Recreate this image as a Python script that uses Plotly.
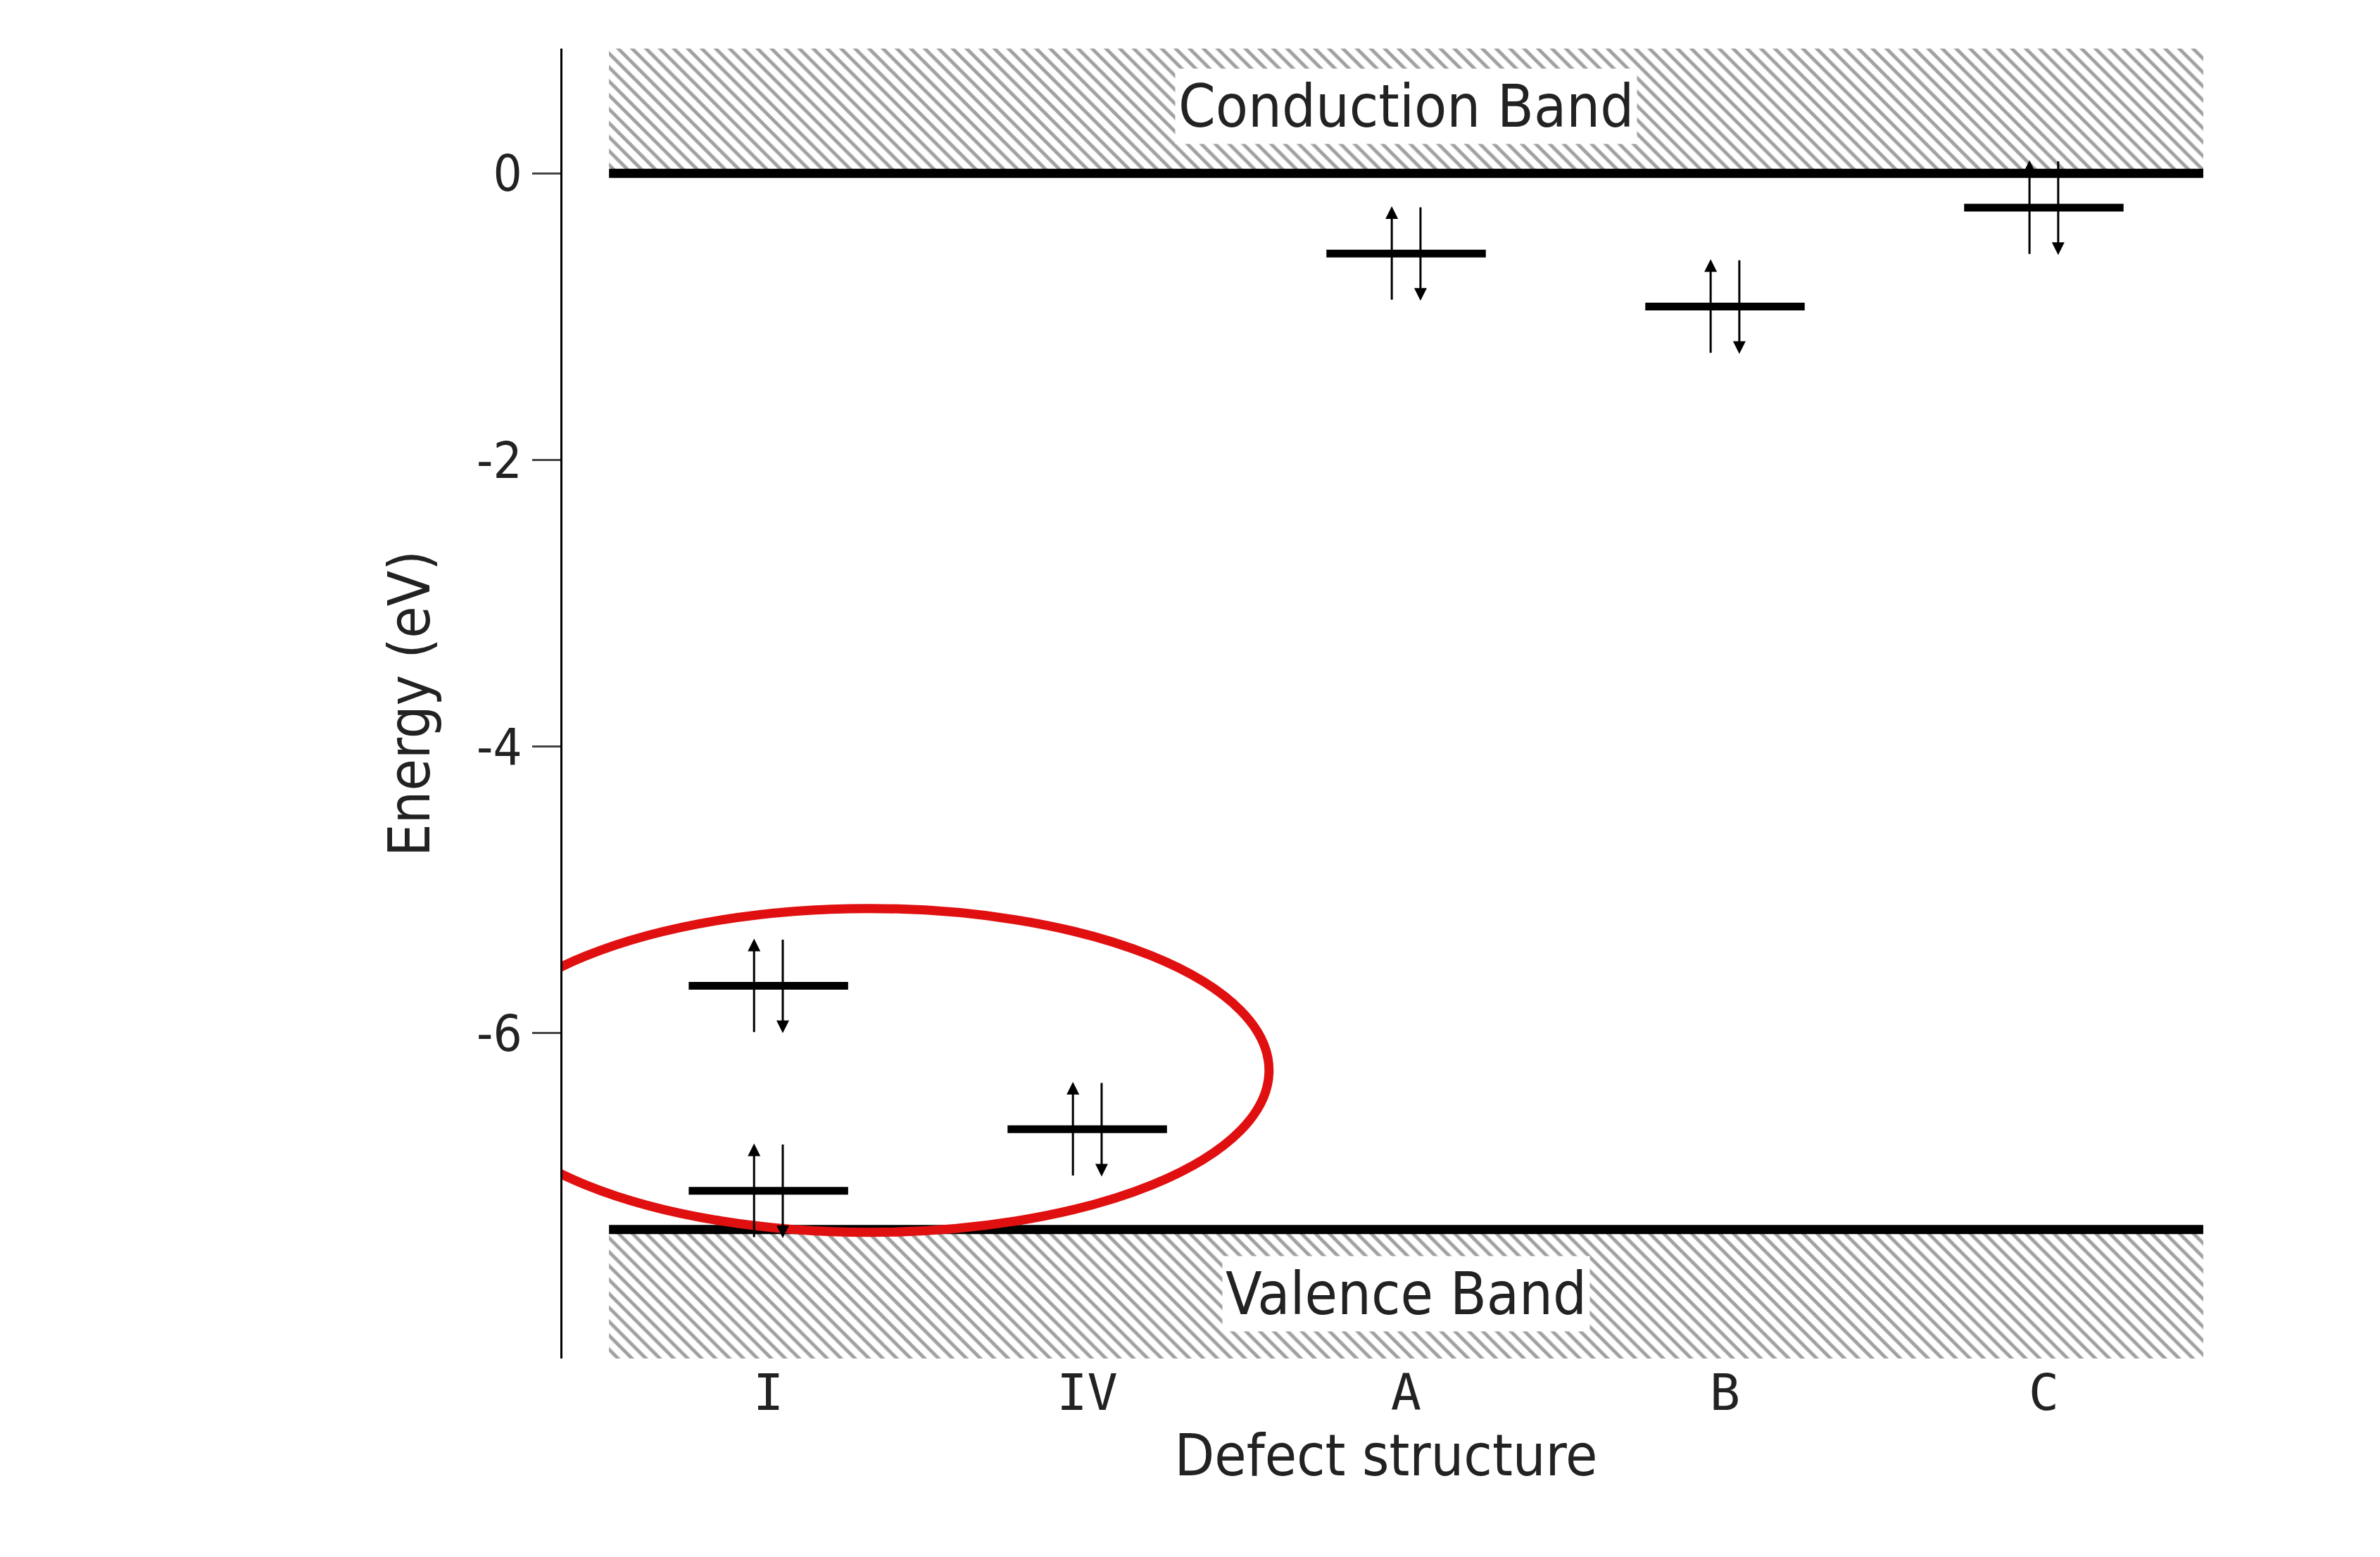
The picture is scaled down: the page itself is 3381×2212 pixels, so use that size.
import plotly.graph_objects as go

# data
defects = ["I", "IV", "A", "B", "C"]
level_defect = ["I", "I", "IV", "A", "B", "C"]
level_energy = [-5.67, -7.10, -6.67, -0.56, -0.93, -0.24]
e_cb = 0.0
e_vb = -7.37
cb_top = 0.87
vb_bottom = -8.27
y_ticks = [0, -2, -4, -6]

FONT = "DejaVu Sans Condensed, DejaVu Sans, Arial"
x_left, x_right = -0.5, 4.5

fig = go.Figure()

# hatched bands
for y0, y1 in [(e_cb, cb_top), (vb_bottom, e_vb)]:
    fig.add_trace(go.Scatter(
        x=[x_left, x_right, x_right, x_left, x_left], y=[y0, y0, y1, y1, y0],
        mode="lines", fill="toself", line=dict(width=0),
        fillcolor="white",
        fillpattern=dict(shape="\\", size=14, solidity=0.35, fgcolor="#444", bgcolor="white"),
        hoverinfo="skip", showlegend=False))

# band edges
for e in [e_cb, e_vb]:
    fig.add_trace(go.Scatter(x=[x_left, x_right], y=[e, e], mode="lines",
                             line=dict(color="black", width=13), showlegend=False))

# defect levels with spin arrows
half = 0.25
for name, e in zip(level_defect, level_energy):
    xc = defects.index(name)
    fig.add_trace(go.Scatter(x=[xc - half, xc + half], y=[e, e], mode="lines",
                             line=dict(color="black", width=11), showlegend=False))
    for dx, sign in [(-0.045, 1), (0.045, -1)]:
        fig.add_annotation(x=xc + dx, y=e + sign * 0.33, ax=xc + dx, ay=e - sign * 0.33,
                           xref="x", yref="y", axref="x", ayref="y", text="",
                           showarrow=True, arrowhead=2, arrowsize=1.2, arrowwidth=3,
                           arrowcolor="black")

# band labels
fig.add_annotation(x=2, y=(e_cb + cb_top) / 2 + 0.03, text="Conduction Band", showarrow=False,
                   font=dict(family=FONT, size=84, color="#222"), bgcolor="white", borderpad=4)
fig.add_annotation(x=2, y=(e_vb + vb_bottom) / 2, text="Valence Band", showarrow=False,
                   font=dict(family=FONT, size=84, color="#222"), bgcolor="white", borderpad=4)
fig.add_annotation(x=4.72, y=e_cb, text="<b>ϵ<sub>cb</sub></b>", showarrow=False, xanchor="left",
                   font=dict(family="DejaVu Sans", size=72, color="black"))
fig.add_annotation(x=4.72, y=e_vb + 0.1, text="<b>ϵ<sub>vb</sub></b>", showarrow=False, xanchor="left",
                   font=dict(family="DejaVu Sans", size=72, color="black"))

# y axis arrow
fig.add_annotation(x=0, y=1.0, ax=0, ay=0, xref="paper", yref="paper", axref="pixel",
                   ayref="pixel", text="", showarrow=True, arrowhead=2, arrowsize=1.5,
                   arrowwidth=3, arrowcolor="black")
fig.add_annotation(x=0, y=cb_top + 0.02, ax=0, ay=60, xref="paper", yref="y", text="",
                   showarrow=True, arrowhead=2, arrowsize=1.5, arrowwidth=3, arrowcolor="black")

# red ellipse and callout
fig.add_shape(type="circle", xref="x", yref="y", x0=-0.94, x1=1.57, y0=-7.39, y1=-5.13,
              line=dict(color="#e01010", width=13))
fig.add_shape(type="rect", xref="x", yref="y", x0=-2.27, x1=-1.17, y0=vb_bottom, y1=-6.41,
              line=dict(color="#d42020", width=6), fillcolor="white")
fig.add_annotation(x=-2.17, y=-7.35, xref="x", yref="y", xanchor="left", showarrow=False,
                   align="left", text="Ei levels<br>Close<br>To Ev top",
                   font=dict(family="Liberation Sans, Arial", size=74, color="#111"))
fig.add_annotation(x=-0.85, y=-6.75, ax=-1.3, ay=-7.2, xref="x", yref="y", axref="x", ayref="y",
                   text="", showarrow=True, arrowhead=2, arrowsize=1.2, arrowwidth=6,
                   arrowcolor="black")

fig.update_xaxes(range=[-0.646, 4.52], tickvals=list(range(len(defects))), ticktext=defects,
                 showline=False, showgrid=False, zeroline=False, ticks="",
                 tickfont=dict(family="DejaVu Sans Mono", size=72, color="#222"),
                 title=dict(text="Defect structure", font=dict(family=FONT, size=82, color="#222"),
                            standoff=10))
fig.update_yaxes(range=[vb_bottom, cb_top], tickvals=y_ticks, ticktext=[str(t) for t in y_ticks],
                 showline=True, linecolor="black", linewidth=3, ticks="outside", ticklen=40,
                 tickwidth=3, showgrid=False, zeroline=False,
                 tickfont=dict(family=FONT, size=72, color="#222"),
                 title=dict(text="Energy (eV)", font=dict(family=FONT, size=82, color="#222"),
                            standoff=40))

fig.update_layout(width=3381, height=2212, plot_bgcolor="white", paper_bgcolor="white",
                  margin=dict(l=791, r=250, t=61, b=290), showlegend=False)

fig.write_html("out.html")
